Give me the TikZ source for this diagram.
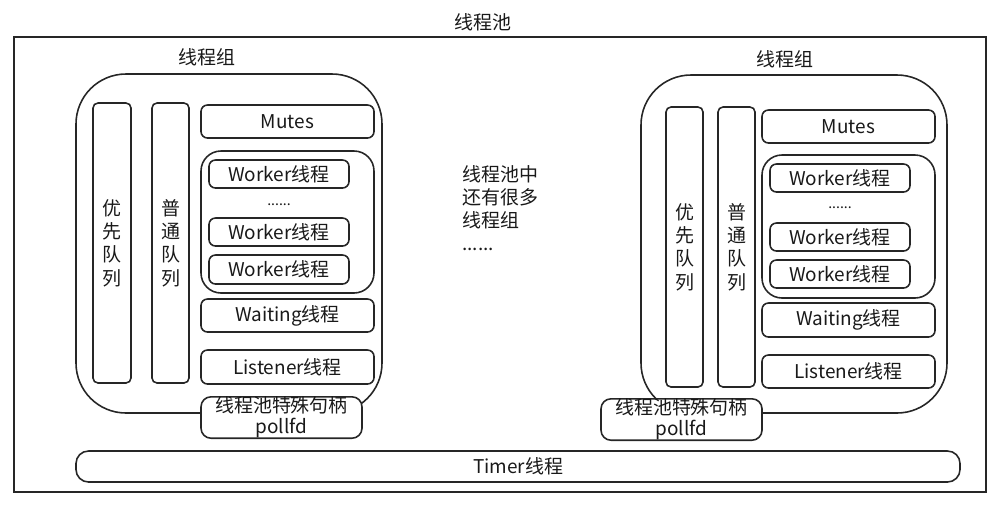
\documentclass[tikz,border=0pt]{standalone}
\usepackage{fontspec}
\newfontfamily\cjk{Noto Sans CJK SC}
\newcommand\pbox[7]{\node[#6, inner sep=0pt, minimum width={(#4-#2)*0.02cm}, minimum height={(#5-#3)*0.02cm}] (#1) at ({(#2+#4)/2},{(#3+#5)/2}) {#7};}
\begin{document}
\begin{tikzpicture}[x=0.02cm,y=-0.02cm,
  every node/.style={font=\cjk\fontsize{10.8}{13}\selectfont, text=black!90},
  ln/.style={draw=black!85, line width=0.9pt},
  grp/.style={ln, rounded corners=1cm},
  bar/.style={ln, rounded corners=0.1cm, align=center, font=\cjk\fontsize{10.8}{13.3}\selectfont},
  bx/.style={ln, rounded corners=0.13cm},
  wc/.style={ln, rounded corners=0.4cm},
  pf/.style={ln, rounded corners=0.2cm, fill=white, align=center, font=\cjk\fontsize{10.8}{12}\selectfont},
  tm/.style={ln, rounded corners=0.25cm},
  dots/.style={font=\cjk\fontsize{8}{9}\selectfont},
  lbl/.style={}]
\useasboundingbox (0,0) rectangle (1000,505);
% outer frame
\pbox{pool}{14}{37}{986}{492}{ln}{}
\node[lbl] (title) at (483,22) {线程池};

% left group
\node[lbl] (lgl) at (207,57) {线程组};
\pbox{gl}{76}{74}{382}{413}{grp}{}
\pbox{lq1}{93}{103}{131}{383}{bar}{优\\先\\队\\列}
\pbox{lq2}{152}{103}{189}{383}{bar}{普\\通\\队\\列}
\pbox{lmu}{201}{105}{374}{138}{bx}{Mutes}
\pbox{lwc}{201}{151}{374}{293}{wc}{}
\pbox{lw1}{209}{160}{349}{188}{bx}{Worker线程}
\node[dots] (ld) at (279,205) {......};
\pbox{lw2}{209}{218}{349}{246}{bx}{Worker线程}
\pbox{lw3}{209}{255}{349}{284}{bx}{Worker线程}
\pbox{lwa}{201}{299}{374}{332}{bx}{Waiting线程}
\pbox{lli}{201}{350}{374}{384}{bx}{Listener线程}
\pbox{lp}{201}{397}{362}{438}{pf}{线程池特殊句柄\\pollfd}

% middle text
\node[anchor=north west, align=left, inner sep=0pt, font=\cjk\fontsize{10.8}{13.2}\selectfont] (mid) at (462,165) {线程池中\\还有很多\\线程组\\......};

% right group
\node[lbl] (lgr) at (785,59) {线程组};
\pbox{gr}{641}{75}{947}{413}{grp}{}
\pbox{rq1}{666}{107}{703}{387}{bar}{优\\先\\队\\列}
\pbox{rq2}{718}{107}{755}{387}{bar}{普\\通\\队\\列}
\pbox{rmu}{762}{110}{935}{143}{bx}{Mutes}
\pbox{rwc}{762}{155}{935}{298}{wc}{}
\pbox{rw1}{770}{164}{910}{192}{bx}{Worker线程}
\node[dots] (rd) at (840,208) {......};
\pbox{rw2}{770}{223}{910}{251}{bx}{Worker线程}
\pbox{rw3}{770}{260}{910}{288}{bx}{Worker线程}
\pbox{rwa}{762}{303}{935}{337}{bx}{Waiting线程}
\pbox{rli}{762}{355}{935}{388}{bx}{Listener线程}
\pbox{rp}{601}{399}{762}{440}{pf}{线程池特殊句柄\\pollfd}

% timer
\pbox{tmr}{76}{451}{960}{482}{tm}{Timer线程}
\end{tikzpicture}
\end{document}
